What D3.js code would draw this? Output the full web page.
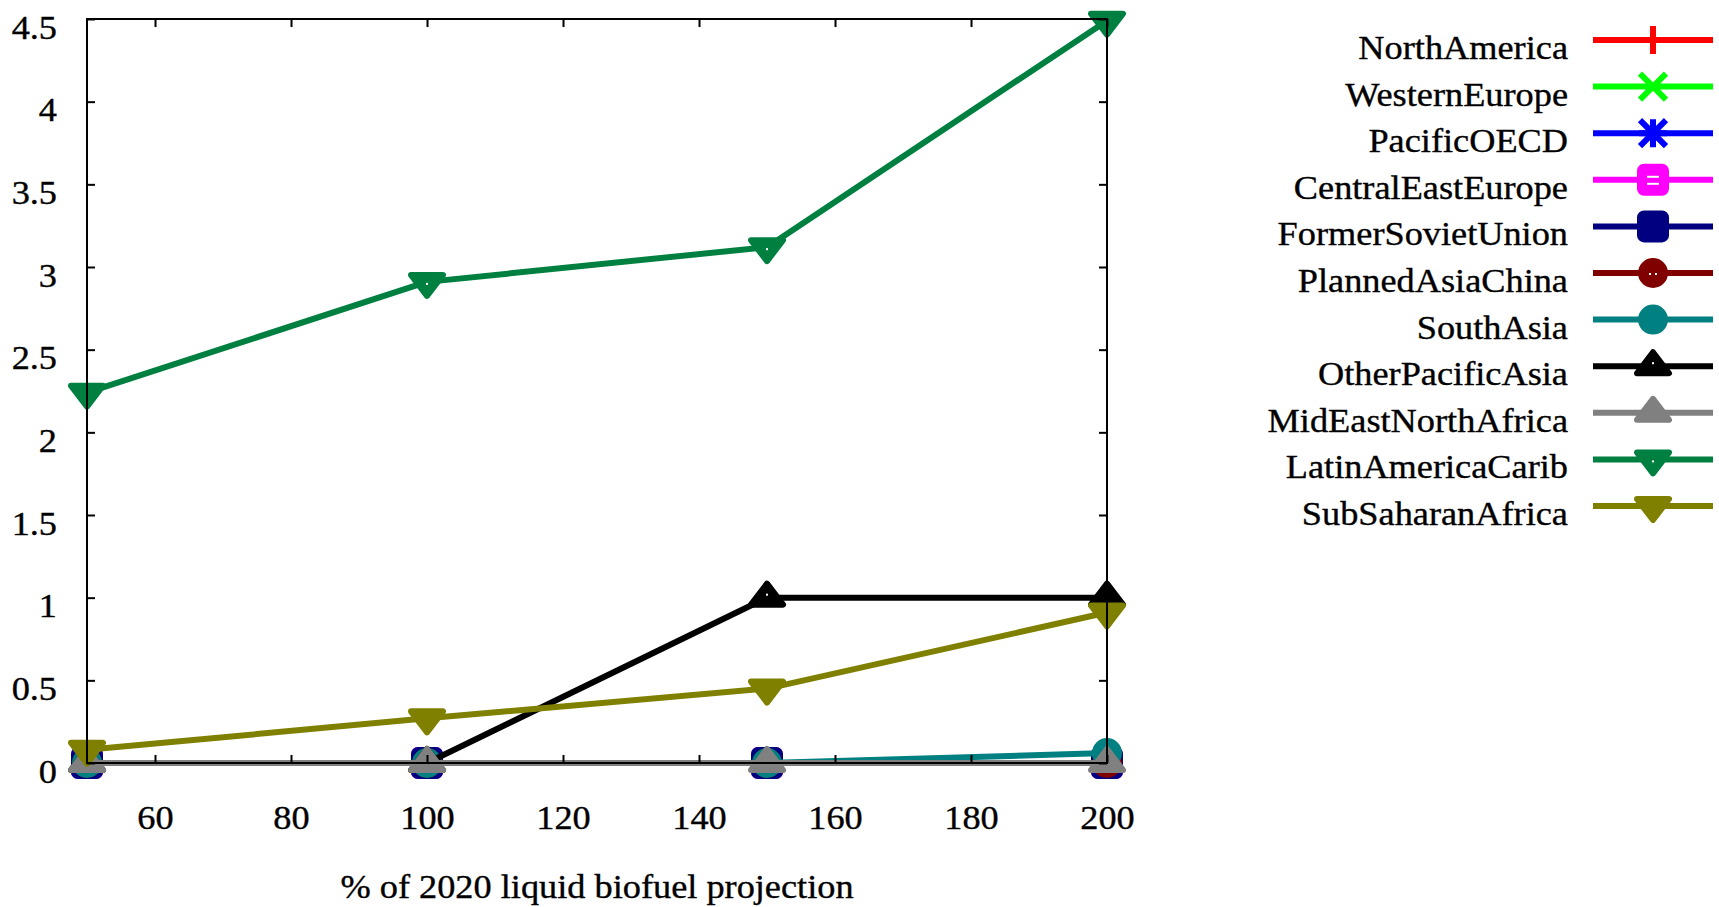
<!DOCTYPE html>
<html>
<head>
<meta charset="UTF-8">
<title>Liquid biofuel</title>
<script src="https://cdnjs.cloudflare.com/ajax/libs/d3/7.8.5/d3.min.js"></script>
<style>
body { margin: 0; background: #fff; }
svg { display: block; }
</style>
</head>
<body>
<script>
// x values (% of 2020 projection)
var xValues = [50, 100, 150, 200];

// one array per region
var northAmerica      = [0, 0, 0, 0];
var westernEurope     = [0, 0, 0, 0];
var pacificOECD       = [0, 0, 0, 0];
var centralEastEurope = [0, 0, 0, 0];
var formerSovietUnion = [0, 0, 0, 0];
var plannedAsiaChina  = [0, 0, 0, 0];
var southAsia         = [0, 0, 0, 0.06];
var otherPacificAsia  = [0, 0, 1.0, 1.0];
var midEastNorthAfrica = [0, 0, 0, 0];
var latinAmericaCarib = [2.24, 2.91, 3.12, 4.49];
var subSaharanAfrica  = [0.08, 0.27, 0.45, 0.91];

var seriesNames = ["NorthAmerica", "WesternEurope", "PacificOECD", "CentralEastEurope",
  "FormerSovietUnion", "PlannedAsiaChina", "SouthAsia", "OtherPacificAsia",
  "MidEastNorthAfrica", "LatinAmericaCarib", "SubSaharanAfrica"];
var seriesValues = [northAmerica, westernEurope, pacificOECD, centralEastEurope,
  formerSovietUnion, plannedAsiaChina, southAsia, otherPacificAsia,
  midEastNorthAfrica, latinAmericaCarib, subSaharanAfrica];

var xTicks = [60, 80, 100, 120, 140, 160, 180, 200];
var yTicks = [0, 0.5, 1, 1.5, 2, 2.5, 3, 3.5, 4, 4.5];
var xLabel = "% of 2020 liquid biofuel projection";

// styles
var colors = ["#ff0000", "#00ff00", "#0000ff", "#ff00ff", "#000080", "#800000",
  "#008080", "#000000", "#808080", "#008040", "#808000"];
var markers = ["plus", "cross", "star", "squareOpen", "square", "circleOpen",
  "circle", "triUpOpen", "triUp", "triDownOpen", "triDown"];

var W = 1719, H = 907;
var plot = {left: 87, right: 1107, top: 19, bottom: 763};
var stretchX = 1.1;   // the original text looks a bit wide
var fontSize = 33;
var fontFamily = "'Liberation Serif', 'Times New Roman', serif";

var svg = d3.select("body").append("svg")
    .attr("width", W)
    .attr("height", H);

var x = d3.scaleLinear().domain([50, 200]).range([plot.left, plot.right]);
var y = d3.scaleLinear().domain([0, 4.5]).range([plot.bottom, plot.top]);

function setFont(sel) {
  sel.style("font-family", fontFamily)
     .style("font-size", fontSize + "px")
     .attr("fill", "#000")
     .attr("stroke", "#000")
     .attr("stroke-width", 0.35);
}

function stretch(sel) {
  sel.each(function() {
    var len = this.getComputedTextLength();
    d3.select(this)
      .attr("textLength", len * stretchX)
      .attr("lengthAdjust", "spacingAndGlyphs");
  });
}

// marker shapes
function drawMarker(g, type, color, cx, cy) {
  var m = g.append("g").attr("transform", "translate(" + cx + "," + cy + ")");
  var sw = 6;
  function tri(dir) {
    return "M0," + (-14 * dir) + "L16," + (7 * dir) + "L-16," + (7 * dir) + "Z";
  }
  if (type == "plus" || type == "star") {
    m.append("path").attr("d", "M-14,0H14M0,-14V14")
      .attr("stroke", color).attr("stroke-width", sw).attr("fill", "none");
  }
  if (type == "cross" || type == "star") {
    m.append("path").attr("d", "M-13,-13L13,13M-13,13L13,-13")
      .attr("stroke", color).attr("stroke-width", sw).attr("fill", "none");
  }
  if (type == "square" || type == "squareOpen") {
    m.append("rect").attr("x", -13).attr("y", -13).attr("width", 26).attr("height", 26)
      .attr("rx", 4)
      .attr("fill", color).attr("stroke", color).attr("stroke-width", sw);
  }
  if (type == "circle" || type == "circleOpen") {
    m.append("circle").attr("r", 12)
      .attr("fill", color).attr("stroke", color).attr("stroke-width", sw);
  }
  if (type == "triUp" || type == "triUpOpen") {
    m.append("path").attr("d", tri(1))
      .attr("fill", color).attr("stroke", color).attr("stroke-width", sw)
      .attr("stroke-linejoin", "round");
  }
  if (type == "triDown" || type == "triDownOpen") {
    m.append("path").attr("d", tri(-1))
      .attr("fill", color).attr("stroke", color).attr("stroke-width", sw)
      .attr("stroke-linejoin", "round");
  }
  // small hole for the open symbols
  if (type == "squareOpen") {
    m.append("rect").attr("x", -6).attr("y", -4).attr("width", 12).attr("height", 2).attr("fill", "#fff");
    m.append("rect").attr("x", -6).attr("y", 3).attr("width", 12).attr("height", 2).attr("fill", "#fff");
  } else if (type == "circleOpen") {
    m.append("rect").attr("x", -4).attr("y", 0).attr("width", 2).attr("height", 2).attr("fill", "#fff");
    m.append("rect").attr("x", 2).attr("y", 0).attr("width", 2).attr("height", 2).attr("fill", "#fff");
  } else if (type == "triUpOpen") {
    m.append("rect").attr("x", -1).attr("y", -4).attr("width", 2).attr("height", 2).attr("fill", "#fff");
  } else if (type == "triDownOpen") {
    m.append("rect").attr("x", -1).attr("y", 1).attr("width", 2).attr("height", 2).attr("fill", "#fff");
  }
}

// data lines + points
var line = d3.line()
    .x(function(d, i) { return x(xValues[i]); })
    .y(function(d) { return y(d); });

var dataG = svg.append("g");
seriesValues.forEach(function(vals, s) {
  dataG.append("path")
    .attr("d", line(vals))
    .attr("fill", "none")
    .attr("stroke", colors[s])
    .attr("stroke-width", 6)
    .attr("stroke-linejoin", "round");
  vals.forEach(function(v, i) {
    drawMarker(dataG, markers[s], colors[s], x(xValues[i]), y(v));
  });
});

// axes (ticks point inward, mirrored on top/right)
var axisG = svg.append("g");
var xAxis = axisG.append("g")
    .attr("transform", "translate(0," + plot.bottom + ")")
    .call(d3.axisBottom(x).tickValues(xTicks).tickSize(-8).tickFormat(d3.format("d")));
var yAxis = axisG.append("g")
    .attr("transform", "translate(" + plot.left + ",0)")
    .call(d3.axisLeft(y).tickValues(yTicks).tickSize(-8).tickFormat(d3.format("~g")));
axisG.append("g")
    .attr("transform", "translate(0," + plot.top + ")")
    .call(d3.axisTop(x).tickValues(xTicks).tickSize(-8).tickFormat(""));
axisG.append("g")
    .attr("transform", "translate(" + plot.right + ",0)")
    .call(d3.axisRight(y).tickValues(yTicks).tickSize(-8).tickFormat(""));

axisG.selectAll(".domain").remove();
axisG.selectAll("g").attr("font-family", null).attr("font-size", null);
axisG.selectAll(".tick line").attr("stroke", "#000").attr("stroke-width", 2);
axisG.selectAll(".tick text").call(setFont);
xAxis.selectAll(".tick text").attr("y", 66).attr("dy", null);
yAxis.selectAll(".tick text").attr("x", -30).attr("dy", "0.58em");

axisG.append("rect")
    .attr("x", plot.left).attr("y", plot.top)
    .attr("width", plot.right - plot.left).attr("height", plot.bottom - plot.top)
    .attr("fill", "none").attr("stroke", "#000").attr("stroke-width", 2);

stretch(axisG.selectAll(".tick text"));

svg.append("text")
    .attr("x", (plot.left + plot.right) / 2)
    .attr("y", 898)
    .attr("text-anchor", "middle")
    .call(setFont)
    .text(xLabel)
    .call(stretch);

// legend
var legend = svg.append("g");
seriesNames.forEach(function(name, s) {
  var ly = 40 + s * 46.6;
  legend.append("text")
    .attr("x", 1568)
    .attr("y", ly + 19)
    .attr("text-anchor", "end")
    .call(setFont)
    .text(name)
    .call(stretch);
  legend.append("line")
    .attr("x1", 1593).attr("x2", 1713)
    .attr("y1", ly).attr("y2", ly)
    .attr("stroke", colors[s]).attr("stroke-width", 6);
  drawMarker(legend, markers[s], colors[s], 1653, ly);
});
</script>
</body>
</html>
